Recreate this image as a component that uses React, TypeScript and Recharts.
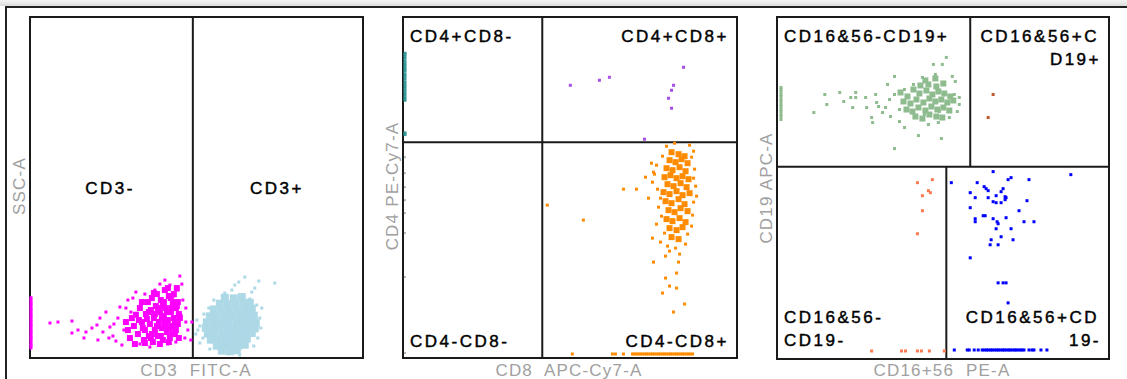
import React from "react";
import {
  ScatterChart,
  Scatter,
  XAxis,
  YAxis,
  ReferenceArea,
  ReferenceLine,
} from "recharts";

type Pt = [number, number];

// ---- CD3 FITC-A vs SSC-A ----
const cd3NegAxis: Pt[] = [
  [3, 30], [3, 37], [3, 41], [3, 49], [3, 55], [3, 61], [3, 66], [3, 73], [3, 79],
  [3, 84], [3, 91], [3, 97], [3, 102], [3, 109], [3, 114], [3, 121], [3, 127],
  [3, 132], [3, 139], [3, 145], [3, 150], [3, 157], [3, 163], [3, 168], [3, 175], [3, 181],
];
const cd3NegSparse: Pt[] = [
  [60, 105], [84, 108], [126, 111], [126, 75], [144, 84], [168, 78], [162, 60],
  [186, 90], [201, 99], [210, 120], [219, 78], [204, 54], [228, 138], [240, 93],
  [249, 66], [258, 51], [264, 120], [270, 153], [282, 84], [276, 39], [294, 174],
  [303, 138], [318, 198], [330, 42], [360, 33], [405, 234], [420, 219], [450, 246],
  [444, 204], [459, 174], [453, 129], [468, 108], [474, 84], [483, 54], [486, 108],
  [465, 60], [438, 48], [414, 42], [390, 222], [375, 204], [345, 192], [432, 186],
  [252, 102], [237, 60], [288, 150], [309, 180], [456, 222], [468, 150],
];
const cd3NegCore: Pt[] = [
  [300, 60], [312, 96], [318, 130], [324, 72], [330, 150], [336, 108], [342, 54],
  [345, 84], [348, 132], [354, 168], [357, 66], [360, 102], [363, 144], [366, 180],
  [369, 48], [372, 120], [375, 84], [378, 156], [381, 192], [384, 66], [387, 108],
  [390, 138], [393, 174], [396, 90], [399, 54], [402, 126], [405, 204], [408, 150],
  [411, 78], [414, 114], [417, 186], [420, 60], [423, 138], [426, 96], [429, 168],
  [432, 120], [435, 72], [438, 150], [441, 210], [444, 102], [447, 132], [336, 168],
  [345, 45], [351, 117], [366, 72], [372, 195], [384, 150], [390, 42], [396, 120],
  [402, 168], [408, 96], [414, 210], [420, 90], [426, 150], [432, 192], [438, 84],
  [444, 168], [450, 120], [327, 114], [339, 90], [357, 138], [363, 60], [375, 132],
  [381, 96], [393, 66], [399, 156], [405, 108], [411, 138], [417, 48], [423, 180],
  [429, 72], [435, 108], [441, 156], [447, 60], [315, 42], [306, 120], [294, 84], [288, 108],
];
const cd3PosCore: Pt[] = [
  [585, 181], [612, 179], [636, 183],
  [570, 163], [594, 161], [618, 165], [642, 162], [660, 166],
  [552, 146], [576, 144], [600, 147], [624, 143], [648, 145], [666, 148],
  [540, 125], [561, 127], [585, 124], [606, 126], [630, 128], [651, 124], [672, 127],
  [531, 107], [555, 109], [576, 105], [597, 108], [621, 106], [642, 110], [663, 107], [678, 105],
  [528, 91], [549, 89], [570, 92], [594, 90], [615, 88], [636, 91], [657, 93], [675, 89],
  [534, 73], [555, 71], [579, 74], [600, 72], [624, 70], [645, 73], [666, 75],
  [543, 55], [564, 57], [588, 53], [609, 56], [630, 54], [651, 58],
  [561, 37], [582, 39], [603, 36], [627, 38], [645, 40],
  [576, 22], [600, 20], [621, 23],
];
const cd3PosSparse: Pt[] = [
  [645, 243], [687, 231], [735, 225], [615, 219], [606, 204], [585, 195], [666, 198],
  [681, 159], [504, 84], [501, 114], [519, 60], [510, 45], [690, 120], [693, 90],
  [684, 60], [672, 36], [540, 27], [522, 132], [552, 174], [660, 177], [696, 150],
  [630, 9], [510, 96], [675, 210], [627, 228], [498, 72], [537, 150],
];

// ---- CD8 APC-Cy7-A vs CD4 PE-Cy7-A ----
const cd4PosAxis: Pt[] = [
  [6, 915], [6, 909], [6, 901], [6, 892], [6, 884], [6, 877], [6, 869], [6, 862],
  [6, 853], [6, 846], [6, 838], [6, 829], [6, 821], [6, 813], [6, 805], [6, 797],
  [6, 789], [6, 781], [6, 774], [6, 676], [6, 671],
];
const cd4NegAxis: Pt[] = [
  [6, 603], [6, 555], [6, 513], [6, 474], [6, 435], [6, 375], [6, 243], [6, 15],
];
const doublePos: Pt[] = [
  [501, 819], [588, 834], [618, 843], [840, 873], [810, 819], [804, 804],
  [795, 780], [804, 750], [723, 657],
];
const cd8Core: Pt[] = [
  [804, 618], [825, 612], [843, 606],
  [798, 594], [816, 588], [834, 597], [852, 585],
  [789, 570], [807, 564], [828, 573], [846, 561],
  [783, 543], [801, 549], [819, 540], [837, 546], [855, 537],
  [792, 522], [810, 516], [831, 525], [849, 513],
  [780, 498], [798, 492], [819, 501], [837, 489], [858, 495],
  [786, 471], [804, 465], [825, 477], [843, 462],
  [795, 444], [813, 438], [831, 450], [852, 441],
  [789, 417], [807, 411], [828, 420], [846, 408],
  [798, 390], [819, 384], [837, 393],
  [804, 363], [825, 357],
];
const cd8Sparse: Pt[] = [
  [789, 636], [813, 645], [858, 639], [870, 621], [777, 606], [864, 603], [759, 579],
  [873, 567], [753, 552], [870, 540], [747, 528], [876, 516], [762, 507], [771, 480],
  [879, 486], [870, 468], [765, 453], [867, 429], [774, 426], [759, 402], [864, 396],
  [783, 375], [852, 372], [771, 348], [846, 342], [792, 336], [816, 330], [798, 321],
  [786, 306], [828, 312], [750, 288], [825, 288], [786, 240], [819, 255], [798, 216],
  [819, 210], [777, 195], [843, 162], [810, 138], [747, 360],
  [432, 459], [540, 414], [660, 507], [699, 507], [726, 543], [750, 558], [735, 480], [744, 585],
];
const cd8Axis: Pt[] = [
  [507, 12], [627, 12], [636, 12], [660, 12], [687, 12], [692, 12], [699, 12], [704, 12],
  [711, 12], [716, 12], [723, 12], [729, 12], [734, 12], [741, 12], [747, 12], [752, 12],
  [759, 12], [765, 12], [770, 12], [777, 12], [783, 12], [788, 12], [795, 12], [801, 12],
  [806, 12], [813, 12], [819, 12], [824, 12], [831, 12], [837, 12], [842, 12], [849, 12],
  [855, 12], [860, 12], [867, 12],
];

// ---- CD16+56 PE-A vs CD19 APC-A ----
const cd19Axis: Pt[] = [
  [12, 717], [12, 726], [12, 732], [12, 741], [12, 747], [12, 756], [12, 762],
  [12, 771], [12, 777], [12, 786], [12, 792], [12, 801], [12, 807], [12, 813],
];
const cd19Sparse: Pt[] = [
  [111, 738], [144, 792], [150, 762], [189, 798], [201, 771], [222, 783], [237, 798],
  [237, 783], [228, 753], [267, 783], [270, 753], [297, 792], [300, 768], [306, 756],
  [285, 723], [288, 708], [318, 738], [333, 822], [342, 726], [354, 846], [354, 630],
  [369, 711], [384, 693], [426, 669], [495, 660], [456, 702], [486, 708], [510, 903],
  [498, 882], [471, 882], [477, 852], [528, 846], [537, 831], [549, 783], [438, 843],
  [411, 822], [339, 777], [327, 753], [354, 792], [369, 747], [384, 807], [549, 762],
  [543, 741], [519, 723], [489, 741], [414, 723], [444, 732], [534, 792],
];
const cd19Core: Pt[] = [
  [372, 798], [393, 786], [411, 807], [429, 795], [450, 804], [468, 792], [486, 801],
  [504, 795], [522, 786], [381, 771], [402, 765], [420, 777], [441, 768], [459, 780],
  [477, 771], [495, 777], [513, 768], [531, 774], [390, 747], [408, 741], [426, 753],
  [447, 744], [465, 756], [483, 747], [501, 753], [519, 744], [417, 726], [438, 720],
  [459, 732], [480, 726], [498, 723], [432, 819], [456, 822], [480, 816], [501, 825],
  [447, 834], [477, 840],
];
const doublePosNk: Pt[] = [[651, 792], [636, 723]];
const doubleNeg: Pt[] = [
  [423, 528], [468, 537], [438, 489], [456, 504], [462, 498], [438, 444], [423, 375],
  [285, 24], [375, 24], [387, 24], [423, 24], [435, 24], [459, 24], [504, 24],
];
const nkCells: Pt[] = [
  [525, 528], [651, 561], [603, 528], [624, 516], [630, 510], [636, 504], [582, 498],
  [597, 483], [636, 483], [660, 489], [681, 510], [675, 501], [696, 537], [705, 543],
  [759, 537], [885, 552], [651, 471], [660, 468], [675, 468], [687, 486], [690, 483],
  [687, 477], [753, 474], [582, 453], [621, 429], [627, 429], [597, 420], [597, 411],
  [651, 420], [663, 411], [666, 405], [690, 423], [729, 444], [744, 411], [774, 411],
  [660, 390], [705, 390], [675, 366], [645, 357], [642, 342], [666, 342], [711, 357],
  [582, 303], [666, 228], [681, 228], [690, 228], [696, 168],
  [534, 27], [573, 27], [579, 27], [594, 27], [606, 27], [618, 27], [624, 27], [631, 27],
  [636, 27], [643, 27], [648, 27], [654, 27], [661, 27], [666, 27], [672, 27], [679, 27],
  [684, 27], [690, 27], [697, 27], [702, 27], [708, 27], [715, 27], [720, 27], [726, 27],
  [733, 27], [738, 27], [744, 27], [759, 27], [768, 27], [774, 27], [795, 27], [813, 27],
];

const toData = (pts: Pt[]) => pts.map(([x, y]) => ({ x, y }));

const square = (size: number, color: string) => (props: any) => (
  <rect
    x={props.cx - size / 2}
    y={props.cy - size / 2}
    width={size}
    height={size}
    fill={color}
  />
);

const LINE = "#1a1a1a";

type Series = { pts: Pt[]; color: string; size: number };

function Panel({
  left,
  width,
  margin,
  series,
  children,
}: {
  left: number;
  width: number;
  margin: { top: number; right: number; bottom: number; left: number };
  series: Series[];
  children?: React.ReactNode;
}) {
  return (
    <div style={{ position: "absolute", left, top: 0 }}>
      <ScatterChart width={width} height={379} margin={margin}>
        <XAxis type="number" dataKey="x" domain={[0, 1000]} hide />
        <YAxis type="number" dataKey="y" domain={[0, 1024]} hide />
        {series.map((s, i) => (
          <Scatter
            key={i}
            data={toData(s.pts)}
            fill={s.color}
            shape={square(s.size, s.color)}
            isAnimationActive={false}
          />
        ))}
        {children}
        <ReferenceArea
          x1={0}
          x2={1000}
          y1={0}
          y2={1024}
          fill="none"
          stroke={LINE}
          strokeWidth={2}
          ifOverflow="visible"
        />
      </ScatterChart>
    </div>
  );
}

const quad = {
  fontFamily: "'Liberation Sans', Arial, sans-serif",
  fontSize: 17,
  letterSpacing: 2.5,
  fill: "#000",
  stroke: "#000",
  strokeWidth: 0.45,
};
const axisT = {
  fontFamily: "'Liberation Sans', Arial, sans-serif",
  fontSize: 17,
  letterSpacing: 1.2,
  fill: "#a0a0a0",
  whiteSpace: "pre" as const,
};

export default function App() {
  return (
    <div
      style={{
        position: "absolute",
        left: 0,
        top: 0,
        width: 1127,
        height: 379,
        background: "#fff",
        overflow: "hidden",
      }}
    >
      <div
        style={{
          position: "absolute",
          left: 0,
          top: 0,
          width: 1127,
          height: 6,
          background: "linear-gradient(#f4f4f4, #dcdcdc)",
        }}
      />
      <div
        style={{
          position: "absolute",
          left: 5,
          top: 6,
          width: 1130,
          height: 380,
          borderTop: "2px solid #222",
          borderLeft: "2px solid #222",
        }}
      />

      <Panel
        left={0}
        width={380}
        margin={{ top: 17, right: 17, bottom: 21, left: 30 }}
        series={[
          { pts: cd3NegAxis, color: "#ff00ff", size: 3 },
          { pts: cd3NegCore, color: "#ff00ff", size: 6 },
          { pts: cd3NegSparse, color: "#ff00ff", size: 3 },
          { pts: cd3PosCore, color: "#add8e6", size: 8 },
          { pts: cd3PosSparse, color: "#add8e6", size: 3 },
        ]}
      >
        <ReferenceLine x={489} stroke={LINE} strokeWidth={2} />
      </Panel>

      <Panel
        left={370}
        width={380}
        margin={{ top: 17, right: 13, bottom: 21, left: 33 }}
        series={[
          { pts: cd4PosAxis, color: "#339999", size: 3 },
          { pts: cd4NegAxis, color: "#b8b8b8", size: 2 },
          { pts: doublePos, color: "#a64ee8", size: 3 },
          { pts: cd8Core, color: "#ff8c00", size: 6 },
          { pts: cd8Sparse, color: "#ff8c00", size: 3 },
          { pts: cd8Axis, color: "#ff8c00", size: 3 },
        ]}
      >
        <ReferenceLine x={417} stroke={LINE} strokeWidth={2} />
        <ReferenceLine y={648} stroke={LINE} strokeWidth={2} />
      </Panel>

      <Panel
        left={750}
        width={377}
        margin={{ top: 17, right: 18, bottom: 20, left: 27 }}
        series={[
          { pts: cd19Axis, color: "#8fbc8f", size: 3 },
          { pts: cd19Core, color: "#8fbc8f", size: 6 },
          { pts: cd19Sparse, color: "#8fbc8f", size: 3 },
          { pts: doublePosNk, color: "#c05a30", size: 3 },
          { pts: doubleNeg, color: "#ff7a50", size: 3 },
          { pts: nkCells, color: "#0000ff", size: 3 },
        ]}
      >
        <ReferenceLine y={576} stroke={LINE} strokeWidth={2} />
        <ReferenceLine
          segment={[{ x: 582, y: 576 }, { x: 582, y: 1024 }]}
          stroke={LINE}
          strokeWidth={2}
        />
        <ReferenceLine
          segment={[{ x: 510, y: 0 }, { x: 510, y: 576 }]}
          stroke={LINE}
          strokeWidth={2}
        />
      </Panel>

      <svg
        width={1127}
        height={379}
        style={{ position: "absolute", left: 0, top: 0, pointerEvents: "none" }}
      >
        {/* quadrant names */}
        <text x={110} y={194} textAnchor="middle" style={quad}>CD3-</text>
        <text x={277} y={194} textAnchor="middle" style={quad}>CD3+</text>

        <text x={410} y={42} style={quad}>CD4+CD8-</text>
        <text x={729} y={42} textAnchor="end" style={quad}>CD4+CD8+</text>
        <text x={410} y={347} style={quad}>CD4-CD8-</text>
        <text x={729} y={347} textAnchor="end" style={quad}>CD4-CD8+</text>

        <text x={784} y={42} style={quad}>CD16&amp;56-CD19+</text>
        <text x={1099} y={42} textAnchor="end" style={quad}>CD16&amp;56+C</text>
        <text x={1101} y={65} textAnchor="end" style={quad}>D19+</text>
        <text x={784} y={323} style={quad}>CD16&amp;56-</text>
        <text x={784} y={346} style={quad}>CD19-</text>
        <text x={1099} y={323} textAnchor="end" style={quad}>CD16&amp;56+CD</text>
        <text x={1101} y={346} textAnchor="end" style={quad}>19-</text>

        {/* axis titles */}
        <text x={196} y={376} textAnchor="middle" style={axisT}>{"CD3  FITC-A"}</text>
        <text x={569} y={376} textAnchor="middle" style={axisT}>{"CD8  APC-Cy7-A"}</text>
        <text x={942} y={376} textAnchor="middle" style={axisT}>{"CD16+56  PE-A"}</text>
        <text x={25} y={186} textAnchor="middle" transform="rotate(-90 25 186)" style={axisT}>SSC-A</text>
        <text x={398} y={186} textAnchor="middle" transform="rotate(-90 398 186)" style={axisT}>CD4 PE-Cy7-A</text>
        <text x={772} y={188} textAnchor="middle" transform="rotate(-90 772 188)" style={axisT}>CD19 APC-A</text>
      </svg>
    </div>
  );
}
